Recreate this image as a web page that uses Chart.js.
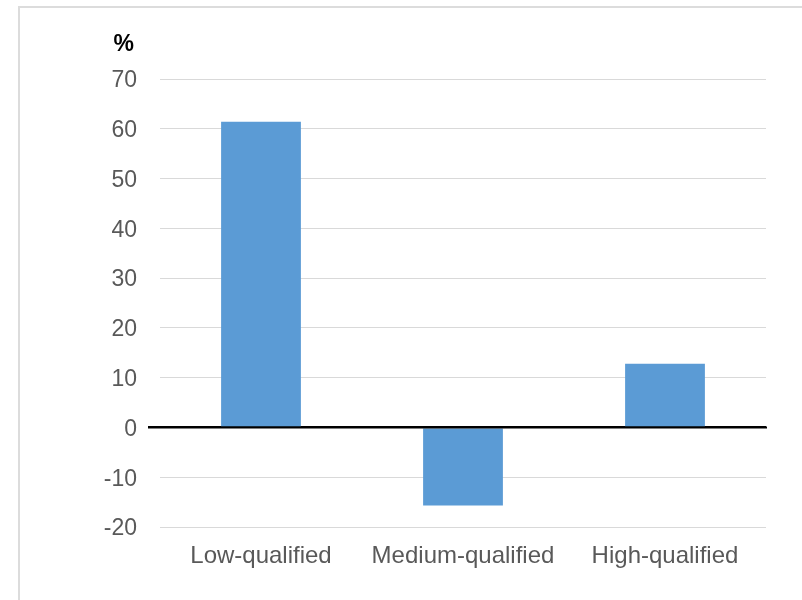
<!DOCTYPE html>
<html>
<head>
<meta charset="utf-8">
<script src="https://cdn.jsdelivr.net/npm/chart.js@4/dist/chart.umd.min.js"></script>
<style>
  html, body { margin: 0; padding: 0; background: #ffffff; }
  canvas { display: block; }
</style>
</head>
<body>
<canvas id="chart" width="802" height="600"></canvas>
<script>
// Change by qualification level, per cent
const categories = ['Low-qualified', 'Medium-qualified', 'High-qualified'];
const changes = [61.4, -15.7, 12.8];
const yTicks = [70, 60, 50, 40, 30, 20, 10, 0, -10, -20];
const unitLabel = '%';

const FONT = '"Liberation Sans", Arial, sans-serif';
const TEXT = '#595959';
const GRID = '#d9d9d9';

// Frame around the figure, unit label above the axis, and the zero baseline on top of the bars
const decorations = {
  id: 'decorations',
  beforeDraw(chart) {
    const ctx = chart.ctx;
    ctx.save();
    ctx.strokeStyle = '#dcdcdc';
    ctx.lineWidth = 2;
    ctx.beginPath();
    ctx.moveTo(19, 600);
    ctx.lineTo(19, 7);
    ctx.lineTo(802, 7);
    ctx.stroke();
    ctx.restore();
  },
  afterDatasetsDraw(chart) {
    const ctx = chart.ctx;
    const y = chart.scales.y.getPixelForValue(0);
    ctx.save();
    ctx.strokeStyle = '#000000';
    ctx.lineWidth = 2;
    ctx.beginPath();
    ctx.moveTo(chart.chartArea.left - 12, y);
    ctx.lineTo(chart.chartArea.right + 1, y);
    ctx.stroke();
    ctx.restore();
  },
  afterDraw(chart) {
    const ctx = chart.ctx;
    ctx.save();
    ctx.fillStyle = '#000000';
    ctx.font = 'bold 23px ' + FONT;
    ctx.textAlign = 'right';
    ctx.textBaseline = 'alphabetic';
    ctx.fillText(unitLabel, 134, 51);
    ctx.restore();
  }
};

new Chart(document.getElementById('chart'), {
  type: 'bar',
  data: {
    labels: categories,
    datasets: [{
      data: changes,
      backgroundColor: '#5b9bd5',
      borderWidth: 0,
      categoryPercentage: 1.0,
      barPercentage: 0.395
    }]
  },
  options: {
    responsive: false,
    animation: false,
    layout: { padding: { left: 0, top: 79, right: 36, bottom: 0 } },
    plugins: {
      legend: { display: false },
      tooltip: { enabled: false }
    },
    scales: {
      x: {
        grid: { display: false, drawTicks: false },
        border: { display: false },
        ticks: {
          color: TEXT,
          font: { family: FONT, size: 24 },
          padding: 15,
          maxRotation: 0
        },
        afterFit(scale) { scale.height = 73; }
      },
      y: {
        min: -20,
        max: 70,
        afterBuildTicks(scale) {
          scale.ticks = yTicks.map(v => ({ value: v }));
        },
        grid: {
          color: ctx => (ctx.tick && ctx.tick.value === 0) ? '#000000' : GRID,
          lineWidth: ctx => (ctx.tick && ctx.tick.value === 0) ? 2 : 1,
          tickColor: ctx => (ctx.tick && ctx.tick.value === 0) ? '#000000' : 'rgba(0,0,0,0)',
          tickLength: 12,
          drawTicks: true
        },
        border: { display: false },
        ticks: {
          color: TEXT,
          font: { family: FONT, size: 23 },
          padding: 11,
          labelOffset: 2
        },
        afterFit(scale) { scale.width = 160; }
      }
    }
  },
  plugins: [decorations]
});
</script>
</body>
</html>
